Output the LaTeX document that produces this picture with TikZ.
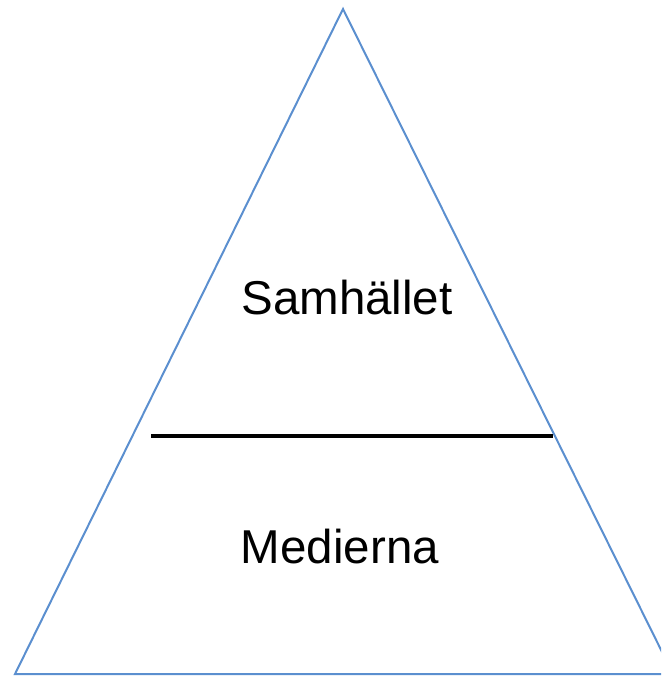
\documentclass[tikz,border=0pt]{standalone}
\usepackage{fontspec}
\setmainfont{Liberation Sans}
\definecolor{triblue}{HTML}{5B8FCF}
\begin{document}
\begin{tikzpicture}[x=1pt,y=-1pt,
  edge/.style={draw=triblue,line width=2pt,line join=miter},
  divider/.style={draw=black,line width=3.5pt},
  label/.style={font=\fontsize{47.5}{56}\selectfont,anchor=base,inner sep=0pt}]
\useasboundingbox (0,0) rectangle (661,679);
\clip (0,0) rectangle (661,679);
\coordinate (apex) at (343,9);
\coordinate (bl) at (15,674);
\coordinate (br) at (673,674);
\draw[edge] (apex) -- (bl) -- (br) -- cycle;
\coordinate (dl) at (151,436);
\coordinate (dr) at (553,436);
\draw[divider] (dl) -- (dr);
\node[label] (top) at (347,314) {Samhället};
\node[label] (bottom) at (340,563) {Medierna};
\end{tikzpicture}
\end{document}
